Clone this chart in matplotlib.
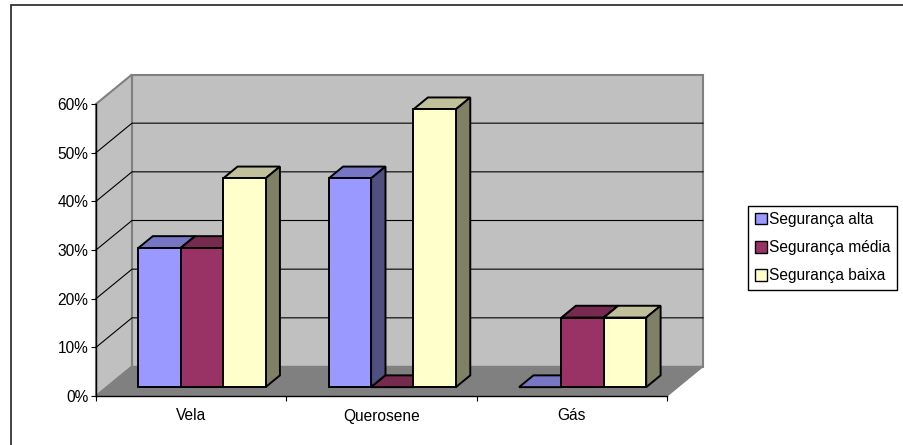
"""
3D style clustered columns, drawn with an oblique projection on plain axes.
"""

import matplotlib
matplotlib.use("Agg")
import matplotlib.pyplot as plt
from matplotlib.lines import Line2D
from matplotlib.patches import Polygon, Rectangle

# ---------------- Data ----------------

categories = ["Vela", "Querosene", "Gás"]
series_names = ["Segurança alta", "Segurança média", "Segurança baixa"]
seg_alta = [28.6, 42.9, 0]
seg_media = [28.6, 0, 14.3]
seg_baixa = [42.9, 57.1, 14.3]
y_ticks = [0, 10, 20, 30, 40, 50, 60]

# ---------------- Styling ----------------

FRONT = ["#9999FF", "#993366", "#FFFFCC"]
TOP = ["#7676C4", "#772A50", "#C0C09A"]
SIDE = ["#4F4F80", "#4F1A35", "#808066"]

W, H = 904, 445
LEFT, RIGHT, BOTTOM, TOP_PX = 96, 667, 396, 104

# how far the back wall sits from the front plane, in data units
DEPTH_X = 36 / 190.4
DEPTH_Y = 29.5 / 4.867
BAR_W = 42.4 / 190.4
BAR_D0, BAR_D1 = 0.30, 0.70

FONT_SIZE = 11.2

plt.rcParams["font.family"] = ["Liberation Sans", "DejaVu Sans"]
plt.rcParams["font.size"] = FONT_SIZE


def pt(x, y, d):
    return (x + d * DEPTH_X, y + d * DEPTH_Y)


def poly(ax, corners, face, edge, lw, z):
    ax.add_patch(Polygon(corners, closed=True, facecolor=face, edgecolor=edge,
                         linewidth=lw, joinstyle="miter", clip_on=False, zorder=z))


def draw_walls(ax, x_max, y_max):
    poly(ax, [pt(0, 0, 1), pt(x_max, 0, 1), pt(x_max, y_max, 1), pt(0, y_max, 1)],
         "#C0C0C0", "#808080", 1.5, 1)
    poly(ax, [pt(0, 0, 0), pt(0, 0, 1), pt(0, y_max, 1), pt(0, y_max, 0)],
         "#C0C0C0", "#808080", 1.5, 1)
    poly(ax, [pt(0, 0, 0), pt(x_max, 0, 0), pt(x_max, 0, 1), pt(0, 0, 1)],
         "#808080", "#808080", 1.0, 1.5)

    for tick in y_ticks[1:-1]:
        xs, ys = zip(pt(0, tick, 0), pt(0, tick, 1), pt(x_max, tick, 1))
        ax.plot(xs, ys, color="black", lw=0.8, clip_on=False, zorder=2)


def draw_bar(ax, x, value, colour_idx, z):
    x1 = x + BAR_W
    d0, d1 = BAR_D0, BAR_D1

    poly(ax, [pt(x, value, d0), pt(x1, value, d0), pt(x1, value, d1), pt(x, value, d1)],
         TOP[colour_idx], "black", 1.4, z)
    if value > 0:
        poly(ax, [pt(x1, 0, d0), pt(x1, 0, d1), pt(x1, value, d1), pt(x1, value, d0)],
             SIDE[colour_idx], "black", 1.4, z)
        poly(ax, [pt(x, 0, d0), pt(x1, 0, d0), pt(x1, value, d0), pt(x, value, d0)],
             FRONT[colour_idx], "black", 1.4, z)


fig = plt.figure(figsize=(W / 100, H / 100), dpi=100)

# chart frame, only the top and left edges are visible
fig.add_artist(Line2D([11 / W, 11 / W, 1], [0, 1 - 5 / H, 1 - 5 / H], transform=fig.transFigure,
                      color="#222222", linewidth=1.2, solid_joinstyle="miter"))

ax = fig.add_axes([LEFT / W, 1 - BOTTOM / H, (RIGHT - LEFT) / W, (BOTTOM - TOP_PX) / H])
ax.patch.set_visible(False)
ax.set_xlim(0, len(categories))
ax.set_ylim(0, 60)

draw_walls(ax, len(categories), 60)

series = [seg_alta, seg_media, seg_baixa]
z = 3
for c in range(len(categories)):
    start = c + (1 - BAR_W * len(series)) / 2
    for s, values in enumerate(series):
        draw_bar(ax, start + s * BAR_W, values[c], s, z)
        z += 1

# axes
for side in ["top", "right"]:
    ax.spines[side].set_visible(False)
for side in ["left", "bottom"]:
    ax.spines[side].set_linewidth(1.0)
    ax.spines[side].set_zorder(20)

ax.set_yticks(y_ticks)
ax.set_yticklabels([f"{t}%" for t in y_ticks])
ax.set_xticks(range(len(categories) + 1))
ax.set_xticklabels([])
ax.set_xticks([c + 0.5 for c in range(len(categories))], minor=True)
ax.set_xticklabels(categories, minor=True)
ax.tick_params(axis="x", which="minor", length=0, pad=9)
ax.tick_params(axis="both", which="major", length=3.6, width=0.8, pad=2, color="black")
ax.tick_params(which="both", labelcolor="black", labelsize=FONT_SIZE)

# legend
handles = [Rectangle((0, 0), 1, 1, facecolor=f, edgecolor="black", linewidth=1.0) for f in FRONT]
fig.legend(handles, series_names, loc="upper left",
           bbox_to_anchor=(748.5 / W, 1 - 205.7 / H), bbox_transform=fig.transFigure,
           fancybox=False, framealpha=1, edgecolor="black", fontsize=FONT_SIZE,
           handlelength=0.8, handleheight=0.8, handletextpad=0.15,
           labelspacing=0.85, borderpad=0.4, borderaxespad=0)

fig.savefig("out.png", dpi=100)
